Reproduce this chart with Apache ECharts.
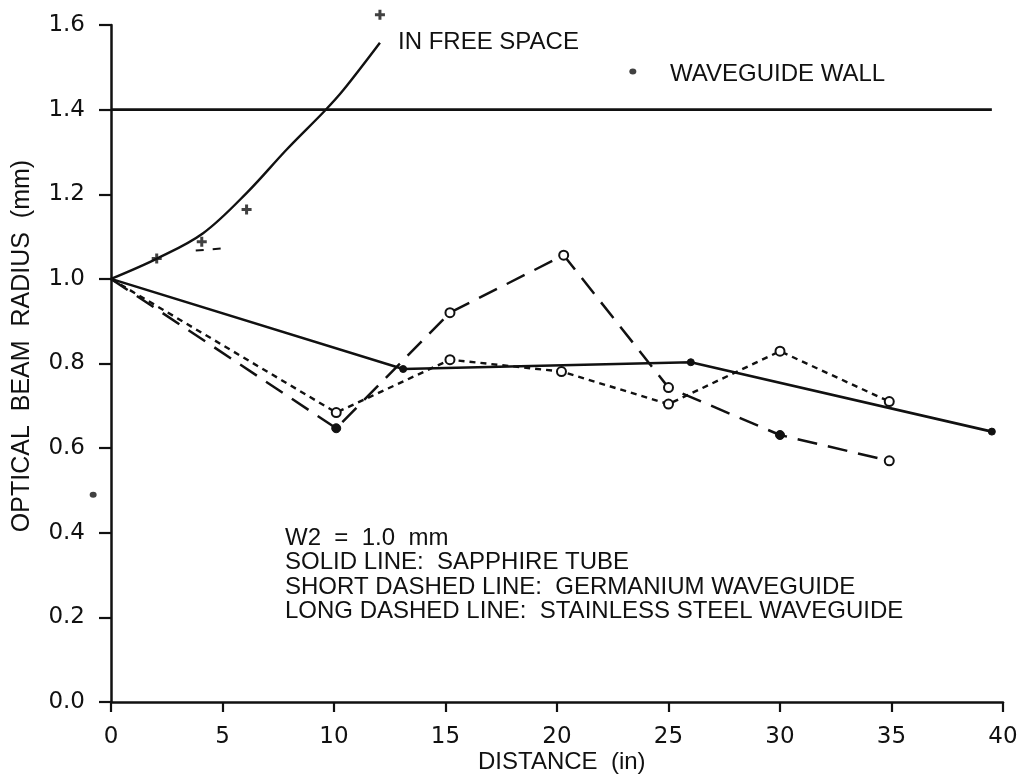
<!DOCTYPE html>
<html><head><meta charset="utf-8">
<script src="https://cdn.jsdelivr.net/npm/echarts@6/dist/echarts.min.js"></script>
<style>html,body{margin:0;padding:0;background:#fff}#c{width:1021px;height:779px}</style>
</head><body><div id="c"></div>
<script>
// ---- data ----
const xTickValues = [0, 5, 10, 15, 20, 25, 30, 35, 40];
const yTickValues = [0.0, 0.2, 0.4, 0.6, 0.8, 1.0, 1.2, 1.4, 1.6];

const freeSpaceX = [0, 2.06, 4.13, 6.1, 7.9, 9.6, 10.4, 12.06];
const freeSpaceY = [1.0, 1.048, 1.108, 1.204, 1.307, 1.398, 1.445, 1.558];
const freeSpacePlusX = [2.05, 4.07, 6.08, 12.06];
const freeSpacePlusY = [1.048, 1.088, 1.164, 1.624];

const wallX = [0, 39.5];
const wallY = [1.4, 1.4];

const sapphireX = [0, 13.1, 26.0, 39.5];
const sapphireY = [1.0, 0.787, 0.803, 0.639];

const germaniumX = [0, 10.1, 15.2, 20.2, 25.0, 30.0, 34.9];
const germaniumY = [1.0, 0.684, 0.809, 0.781, 0.704, 0.829, 0.71];

const steelX = [0, 10.1, 15.2, 20.3, 25.0, 30.0, 34.9];
const steelY = [1.0, 0.647, 0.92, 1.056, 0.743, 0.631, 0.57];
const steelFilledX = [10.1, 30.0];

const strayDashX = [3.8, 5.0];
const strayDashY = [1.067, 1.072];
const strayDotX = [-0.8, 23.4];
const strayDotY = [0.49, 1.49];

const labelFreeSpace = 'IN FREE SPACE';
const labelWall = 'WAVEGUIDE WALL';
const legendLines = [
  'W2  =  1.0  mm',
  'SOLID LINE:  SAPPHIRE TUBE',
  'SHORT DASHED LINE:  GERMANIUM WAVEGUIDE',
  'LONG DASHED LINE:  STAINLESS STEEL WAVEGUIDE'
];
const xName = 'DISTANCE  (in)';
const yName = 'OPTICAL  BEAM  RADIUS  (mm)';

// ---- build ----
const zip = (xs, ys) => xs.map((x, i) => [x, ys[i]]);
const INK = '#111';
const plusPath = 'path://M3.5 0H6.5V3.5H10V6.5H6.5V10H3.5V6.5H0V3.5H3.5Z';
const textFont = '"Liberation Sans", Arial, sans-serif';

const chart = echarts.init(document.getElementById('c'), null, {renderer: 'canvas'});

const openDot = {color: '#fff', borderColor: INK, borderWidth: 2};
const fillDot = {color: INK, borderColor: INK, borderWidth: 1};

const option = {
  backgroundColor: '#fff',
  animation: false,
  grid: {left: 111, right: 18, top: 25, bottom: 77, containLabel: false},
  xAxis: {
    type: 'value', min: 0, max: 40, interval: 5,
    axisLine: {show: true, onZero: false, lineStyle: {color: INK, width: 2.5}},
    axisTick: {show: true, inside: false, length: 10, lineStyle: {color: INK, width: 2.2}},
    axisLabel: {margin: 24, color: INK, fontSize: 23, fontFamily: '"DejaVu Sans", sans-serif',
      formatter: v => xTickValues.includes(v) ? String(v) : ''},
    splitLine: {show: false}
  },
  yAxis: {
    type: 'value', min: 0, max: 1.6, interval: 0.2,
    axisLine: {show: true, onZero: false, lineStyle: {color: INK, width: 2.5}},
    axisTick: {show: true, inside: false, length: 12, lineStyle: {color: INK, width: 2.2}},
    axisLabel: {margin: 26, color: INK, fontSize: 23, fontFamily: '"DejaVu Sans", sans-serif',
      formatter: v => {
        const t = yTickValues.find(y => Math.abs(y - v) < 1e-6);
        return t === undefined ? '' : t.toFixed(1);
      }},
    splitLine: {show: false}
  },
  series: [
    {
      name: 'Free space', type: 'line', data: zip(freeSpaceX, freeSpaceY),
      smooth: 0.35, showSymbol: false, symbol: 'none',
      lineStyle: {color: INK, width: 2.4}, z: 3
    },
    {
      name: 'Free space points', type: 'scatter', data: zip(freeSpacePlusX, freeSpacePlusY),
      symbol: plusPath, symbolSize: 10, itemStyle: {color: INK}, clip: false
    },
    {
      name: 'Waveguide wall', type: 'line', data: zip(wallX, wallY),
      showSymbol: false, symbol: 'none', lineStyle: {color: INK, width: 2.6}
    },
    {
      name: 'Sapphire tube', type: 'line', data: zip(sapphireX, sapphireY).map((p, i) => ({
        value: p, symbolSize: i === 0 ? 0 : 7
      })),
      symbol: 'circle', showAllSymbol: true,
      itemStyle: fillDot, lineStyle: {color: INK, width: 2.6}, z: 4
    },
    {
      name: 'Germanium waveguide', type: 'line', data: zip(germaniumX, germaniumY).map((p, i) => ({
        value: p, symbolSize: i === 0 ? 0 : 9
      })),
      symbol: 'circle', showAllSymbol: true,
      itemStyle: openDot, lineStyle: {color: INK, width: 2.4, type: [6, 5]}, z: 5
    },
    {
      name: 'Stainless steel waveguide', type: 'line', data: zip(steelX, steelY).map((p, i) => ({
        value: p, symbolSize: i === 0 ? 0 : 9,
        itemStyle: steelFilledX.includes(p[0]) ? fillDot : openDot
      })),
      symbol: 'circle', showAllSymbol: true,
      lineStyle: {color: INK, width: 2.5, type: [20, 11]}, z: 5
    },
    {
      name: 'stray dash', type: 'line', data: zip(strayDashX, strayDashY),
      showSymbol: false, symbol: 'none', lineStyle: {color: INK, width: 2, type: [8, 9]}
    },
    {
      name: 'stray dots', type: 'scatter', data: zip(strayDotX, strayDotY),
      symbol: 'circle', symbolSize: [7, 6], itemStyle: {color: INK}, clip: false
    }
  ],
  graphic: [
    {type: 'text', left: 398, top: 30, style: {text: labelFreeSpace, font: '24px ' + textFont, fill: INK}},
    {type: 'text', left: 670, top: 62, style: {text: labelWall, font: '24px ' + textFont, fill: INK}},
    ...legendLines.map((t, i) => ({
      type: 'text', left: 285, top: 526 + i * 24.5,
      style: {text: t, font: '24px ' + textFont, fill: INK}
    })),
    {type: 'text', left: 478, top: 750, style: {text: xName, font: '24px ' + textFont, fill: INK}},
    {type: 'text', x: 22, y: 346, rotation: Math.PI / 2,
      style: {text: yName, font: '25px ' + textFont, fill: INK, align: 'center', verticalAlign: 'middle'}}
  ]
};
chart.setOption(option);
</script>
</body></html>
